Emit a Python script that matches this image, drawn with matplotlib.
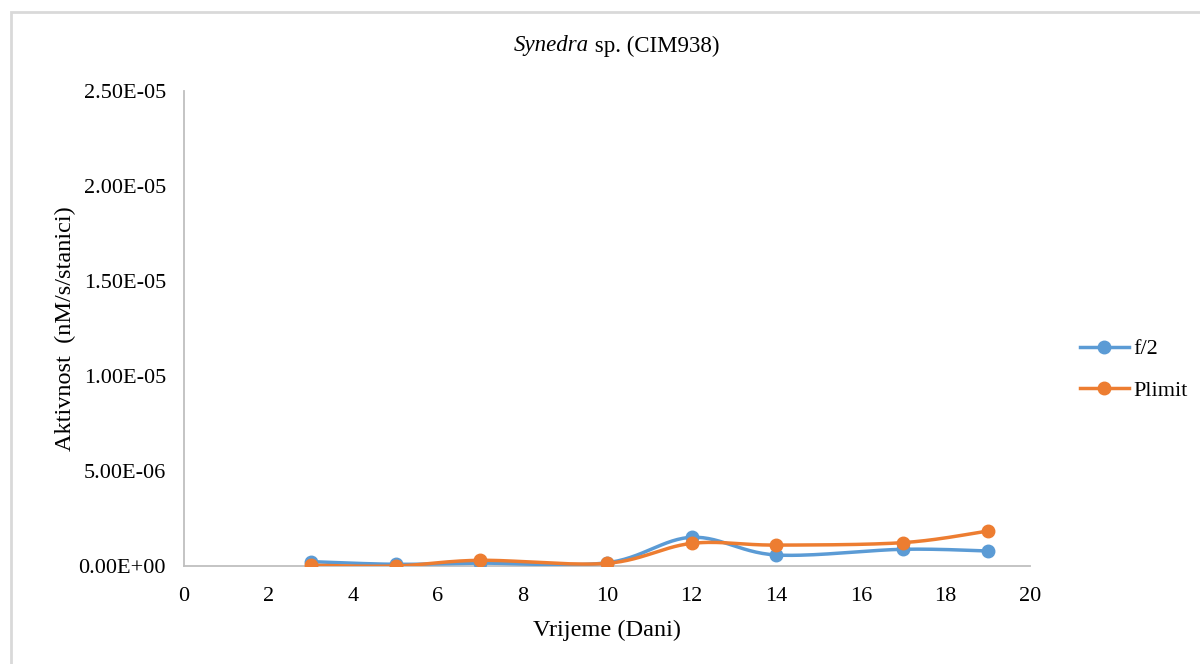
import numpy as np
import matplotlib.pyplot as plt
from matplotlib.patches import Rectangle

# days and activity values (nM/s/cell)
days = [3, 5, 7, 10, 12, 14, 17, 19]
f2_vals = [0.23e-6, 0.09e-6, 0.15e-6, 0.17e-6, 1.51e-6, 0.58e-6, 0.88e-6, 0.79e-6]
plimit_vals = [0.04e-6, 0.0, 0.30e-6, 0.14e-6, 1.19e-6, 1.10e-6, 1.23e-6, 1.84e-6]
plimit_err = [0.02e-6, 0.02e-6, 0.04e-6, 0.02e-6, 0.05e-6, 0.05e-6, 0.10e-6, 0.06e-6]

y_ticks = [0, 5e-6, 1e-5, 1.5e-5, 2e-5, 2.5e-5]
y_labels = ['0.00E+00', '5.00E-06', '1.00E-05', '1.50E-05', '2.00E-05', '2.50E-05']
x_ticks = list(range(0, 21, 2))

plt.rcParams['font.family'] = ['Liberation Serif', 'DejaVu Serif']


def smooth(xs, ys, n=30):
    # Catmull-Rom style curve like Excel smoothed lines
    xs = np.asarray(xs, float)
    ys = np.asarray(ys, float)
    px = np.concatenate([[xs[0]], xs, [xs[-1]]])
    py = np.concatenate([[ys[0]], ys, [ys[-1]]])
    out_x, out_y = [], []
    for i in range(1, len(px) - 2):
        p0, p1, p2, p3 = [np.array([px[j], py[j]]) for j in range(i - 1, i + 3)]
        c1 = p1 + (p2 - p0) / 6
        c2 = p2 - (p3 - p1) / 6
        t = np.linspace(0, 1, n)[:, None]
        pts = ((1 - t) ** 3) * p1 + 3 * ((1 - t) ** 2) * t * c1 + 3 * (1 - t) * t ** 2 * c2 + t ** 3 * p2
        out_x.extend(pts[:, 0])
        out_y.extend(pts[:, 1])
    return out_x, out_y


fig = plt.figure(figsize=(12, 6.64), dpi=100)
ax = fig.add_axes([184 / 1200, 1 - 566 / 664, (1030 - 184) / 1200, (566 - 91) / 664])

blue = '#5b9bd5'
orange = '#ed7d31'

sx, sy = smooth(days, f2_vals)
ax.plot(sx, sy, color=blue, lw=2.5, zorder=3)
ax.plot(days, f2_vals, 'o', color=blue, ms=9, zorder=4)

ax.errorbar(days, plimit_vals, yerr=plimit_err, fmt='none', ecolor='#333333',
            elinewidth=1, capsize=4, zorder=4)
sx, sy = smooth(days, plimit_vals)
ax.plot(sx, sy, color=orange, lw=2.5, zorder=5)
ax.plot(days, plimit_vals, 'o', color=orange, ms=9, zorder=6)

ax.set_xlim(0, 20)
ax.set_ylim(0, 2.5e-5)
ax.set_xticks(x_ticks)
ax.set_yticks(y_ticks)
ax.set_yticklabels(y_labels)
ax.tick_params(length=0, labelsize=16)
ax.tick_params(axis='y', pad=13)
ax.tick_params(axis='x', pad=15)
for s in ['top', 'right']:
    ax.spines[s].set_visible(False)
for s in ['left', 'bottom']:
    ax.spines[s].set_color('#bfbfbf')
    ax.spines[s].set_linewidth(1.3)

ax.set_xlabel('Vrijeme (Dani)', fontsize=17.5, labelpad=10)
ax.set_ylabel('Aktivnost  (nM/s/stanici)', fontsize=17.5, labelpad=2)

ty = 1 - 46 / 664
tx = 589 / 1200
fig.text(tx, ty, 'Synedra', fontsize=16.5, style='italic', ha='right', va='center')
fig.text(tx, ty, ' sp. (CIM938)', fontsize=16.5, ha='left', va='center')

# legend
h1, = ax.plot([], [], '-o', color=blue, lw=2.5, ms=9)
h2, = ax.plot([], [], '-o', color=orange, lw=2.5, ms=9)
fig.legend([h1, h2], ['f/2', 'Plimit'], loc='center left',
           bbox_to_anchor=(1060 / 1200, 1 - 370 / 664), frameon=False,
           fontsize=16, handlelength=2.2, labelspacing=0.95, handletextpad=0.2)

# chart-area border
fig.patches.append(Rectangle((11 / 1200, -0.1), 1.2, (1 - 12 / 664) + 0.1,
                             transform=fig.transFigure, fill=False,
                             edgecolor='#d9d9d9', lw=2))

fig.savefig('out.png', dpi=100)
